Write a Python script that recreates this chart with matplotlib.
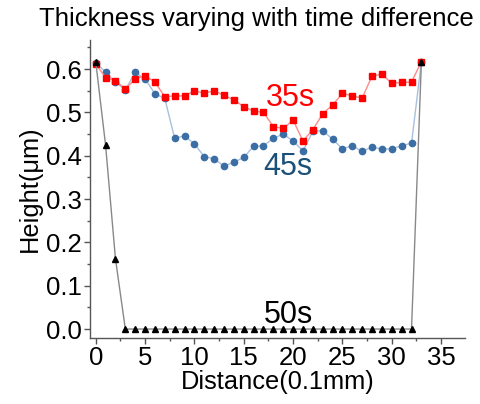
import matplotlib
matplotlib.use("Agg")
import matplotlib.pyplot as plt
from matplotlib.ticker import MultipleLocator

plt.rcParams['font.family'] = ['Liberation Sans', 'DejaVu Sans']

distance = list(range(34))
h35 = [0.612, 0.580, 0.573, 0.554, 0.577, 0.585, 0.570, 0.536, 0.538, 0.538,
       0.550, 0.544, 0.550, 0.539, 0.529, 0.513, 0.503, 0.500, 0.467, 0.463,
       0.482, 0.434, 0.460, 0.497, 0.517, 0.544, 0.538, 0.533, 0.584, 0.588,
       0.567, 0.569, 0.570, 0.617]
h45 = [0.615, 0.593, 0.570, 0.552, 0.592, 0.577, 0.543, 0.532, 0.440, 0.446,
       0.427, 0.398, 0.393, 0.376, 0.385, 0.396, 0.422, 0.423, 0.440, 0.450,
       0.434, 0.411, 0.456, 0.458, 0.438, 0.416, 0.423, 0.410, 0.420, 0.415,
       0.416, 0.423, 0.429, 0.617]
h50 = [0.617, 0.424, 0.162] + [0.0] * 30 + [0.617]

fig = plt.figure(figsize=(4.8, 4.04), dpi=100)
ax = fig.add_axes([0.1875, 0.163, 0.969 - 0.1875, 0.901 - 0.163])

ax.plot(distance, h45, color='#a9c0dc', lw=1.0, marker='o', ms=4.5,
        mfc='#3a6ea5', mec='#3a6ea5', zorder=2)
ax.plot(distance, h35, color='#ff8a8a', lw=1.0, marker='s', ms=4.0,
        mfc='#ff0000', mec='#ff0000', zorder=3)
ax.plot(distance, h50, color='#888888', lw=1.0, marker='^', ms=4.5,
        mfc='black', mec='black', zorder=4)

ax.set_xlim(-0.58, 37.43)
ax.set_ylim(-0.021, 0.667)
ax.xaxis.set_major_locator(MultipleLocator(5))
ax.xaxis.set_minor_locator(MultipleLocator(2.5))
ax.yaxis.set_major_locator(MultipleLocator(0.1))
ax.yaxis.set_minor_locator(MultipleLocator(0.05))
ax.yaxis.set_major_formatter(matplotlib.ticker.FormatStrFormatter('%.1f'))

for s in ['top', 'right']:
    ax.spines[s].set_visible(False)
for s in ['left', 'bottom']:
    ax.spines[s].set_color('#555555')
    ax.spines[s].set_linewidth(1.0)
ax.tick_params(which='major', direction='out', length=4, width=1, colors='#555555',
               labelsize=18.5, labelcolor='black', pad=2)
ax.tick_params(which='minor', direction='out', length=2.5, width=1, colors='#555555')

ax.set_xlabel('Distance(0.1mm)', fontsize=18.3, labelpad=0)
ax.set_ylabel('Height(\u03bcm)', fontsize=18.3, labelpad=3)
fig.text(0.534, 0.982, 'Thickness varying with time difference', fontsize=18.5,
         ha='center', va='top')

ax.text(17.26, 0.515, '35s', color='#ff0000', fontsize=22, ha='left', va='baseline')
ax.text(16.96, 0.356, '45s', color='#1b5078', fontsize=22, ha='left', va='baseline')
ax.text(17.06, 0.014, '50s', color='black', fontsize=22, ha='left', va='baseline')

fig.savefig('out.png', dpi=100)
